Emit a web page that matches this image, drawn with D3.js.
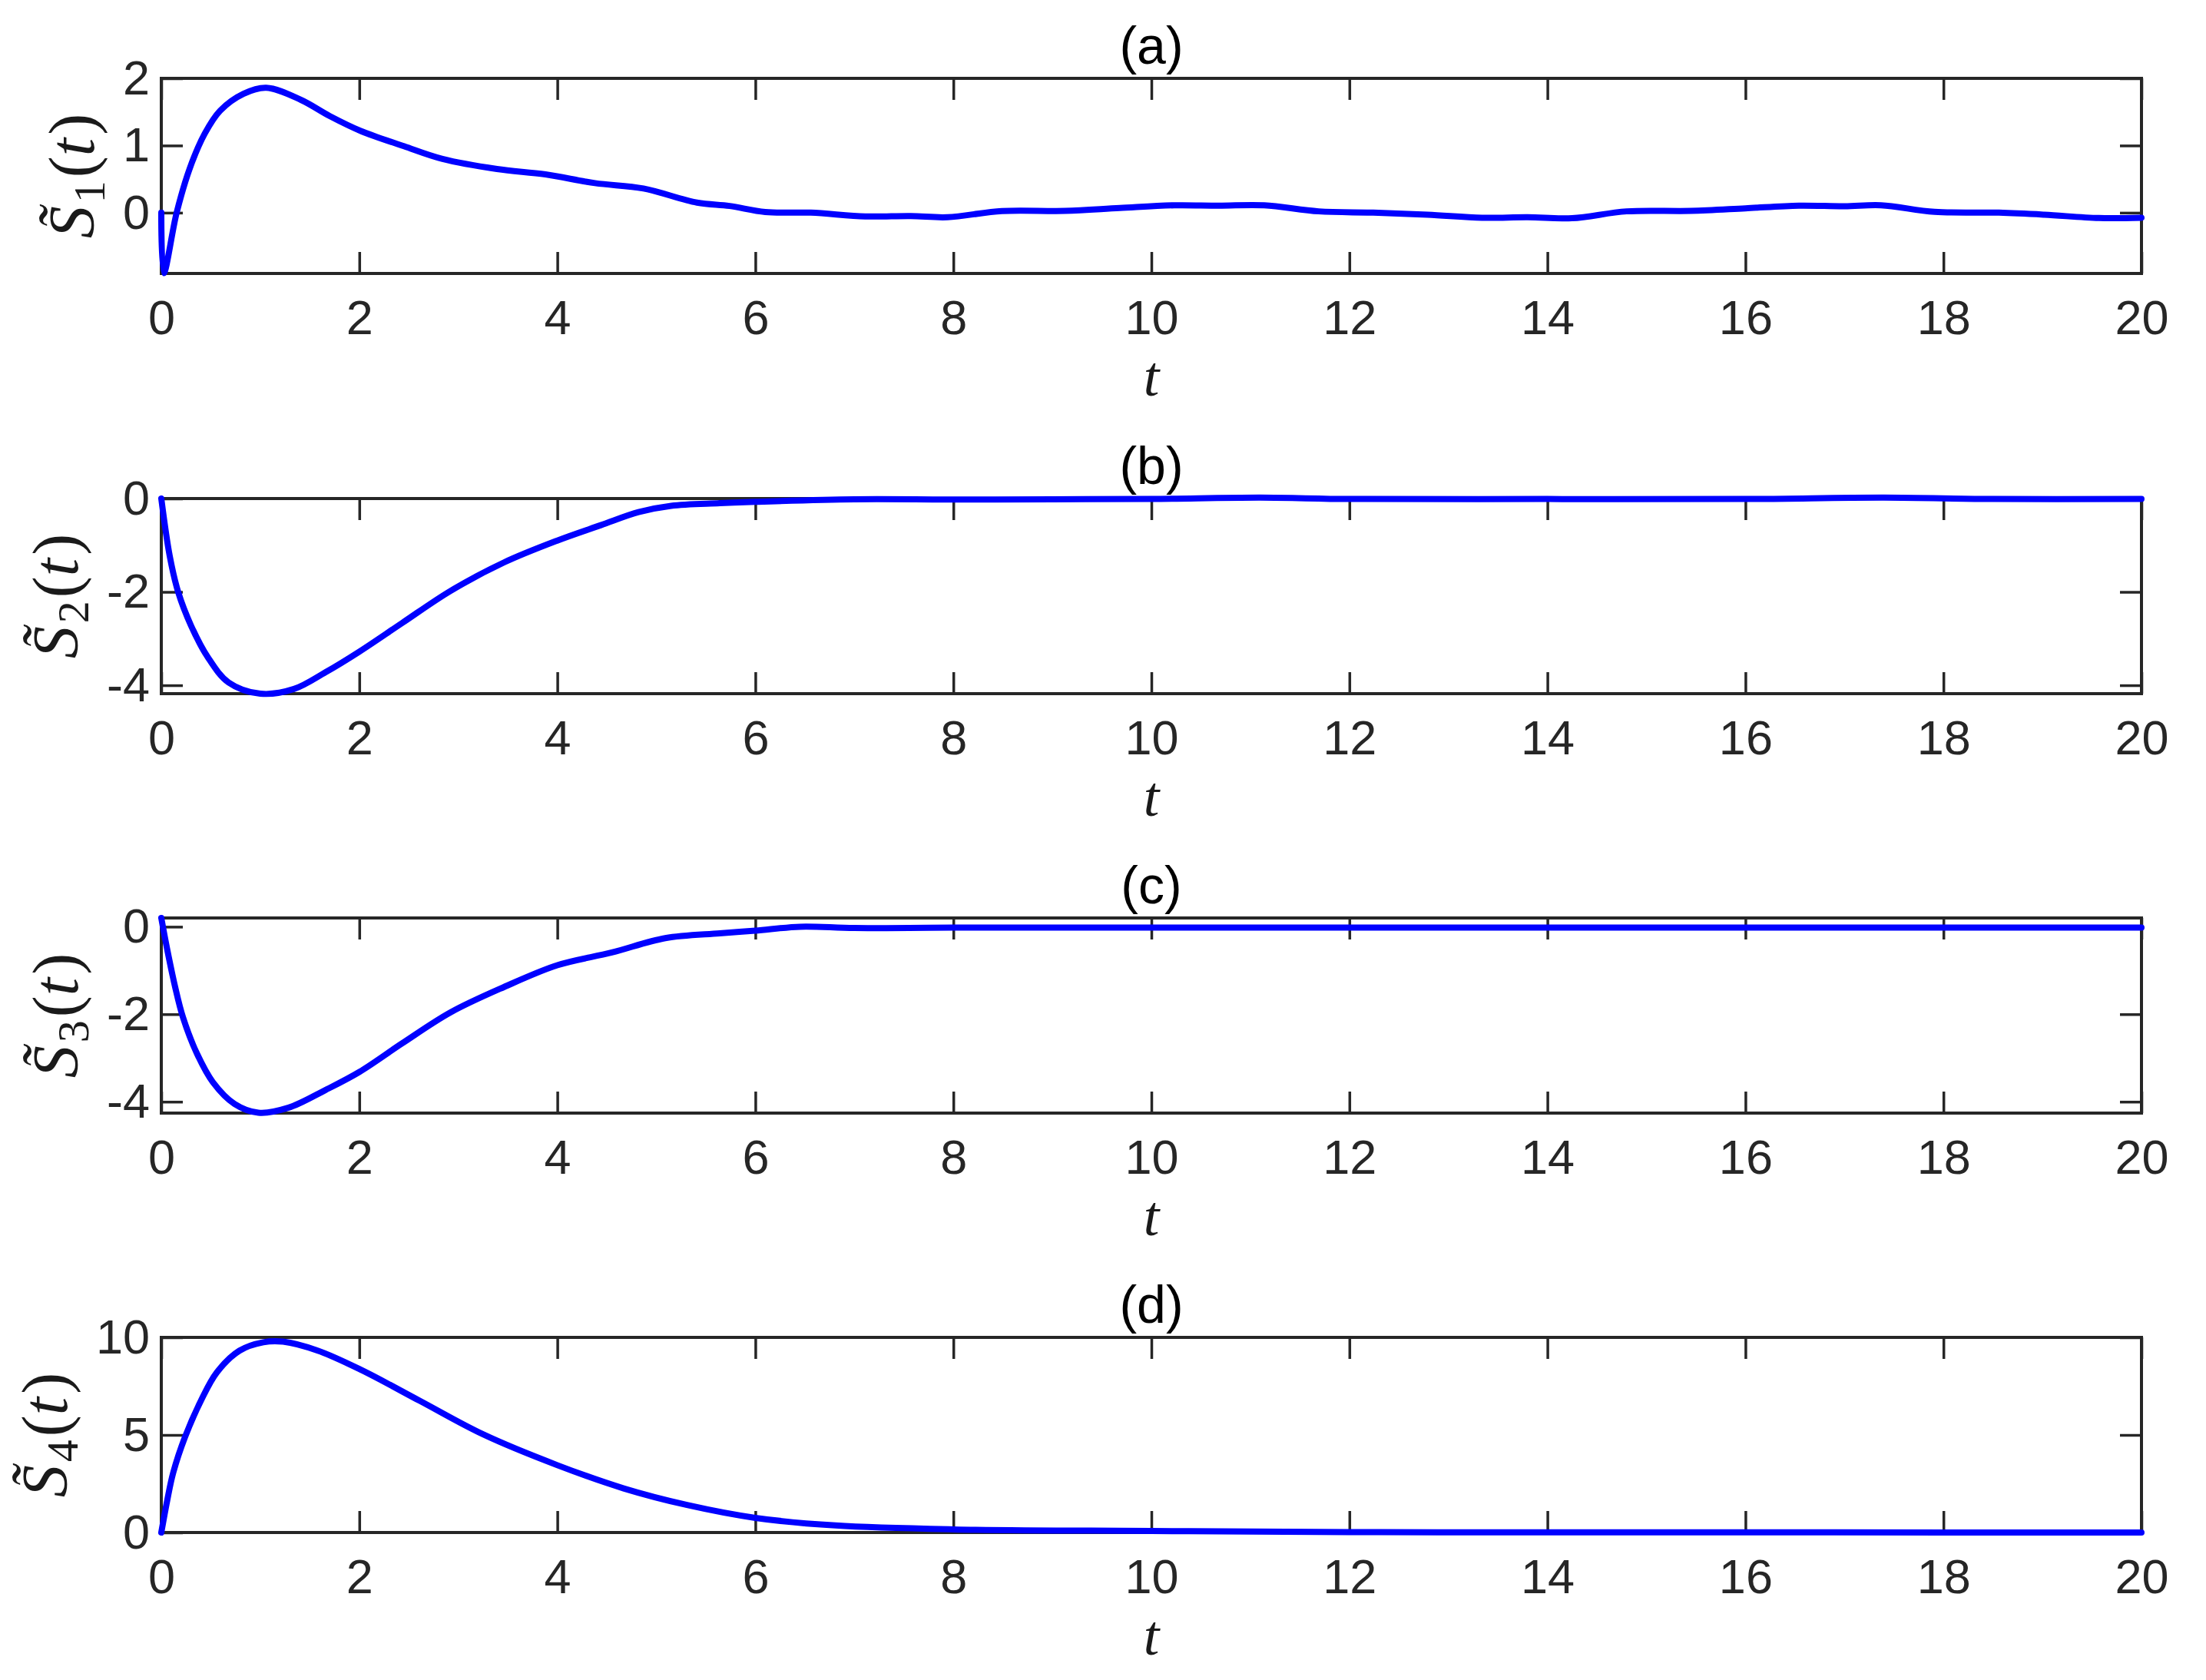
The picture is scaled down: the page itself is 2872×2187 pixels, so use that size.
<!DOCTYPE html>
<html>
<head>
<meta charset="utf-8">
<script src="https://cdn.jsdelivr.net/npm/d3@7"></script>
<style>
    body { margin: 0; background: #ffffff; }
</style>
</head>
<body>
<div id="chart"></div>
<script>
"use strict"

// shared time ticks
let tTicks = [0, 2, 4, 6, 8, 10, 12, 14, 16, 18, 20];

// (a) S1
let tA = [0, 0.025, 0.155, 0.285, 0.44, 0.595, 0.83, 1.06, 1.41, 1.70, 2.01, 2.45, 2.84, 3.39, 3.88, 4.38, 4.87, 5.41, 5.74, 6.1, 6.56, 7.11, 7.57, 7.94, 8.49, 9.13, 9.68, 10.23, 10.68, 11.14, 11.69, 12.24, 12.79, 13.34, 13.8, 14.25, 14.8, 15.45, 16.0, 16.54, 17.0, 17.37, 17.91, 18.56, 19.02, 19.57, 20];
let sA = [0, -0.9, 0, 0.65, 1.18, 1.52, 1.77, 1.86, 1.68, 1.44, 1.22, 0.99, 0.80, 0.65, 0.57, 0.44, 0.36, 0.15, 0.10, 0.01, 0, -0.055, -0.05, -0.068, 0.025, 0.027, 0.07, 0.11, 0.105, 0.11, 0.02, 0, -0.03, -0.075, -0.068, -0.082, 0.02, 0.027, 0.065, 0.105, 0.095, 0.11, 0.012, 0, -0.03, -0.08, -0.075];

// (b) S2
let tB = [0, 0.085, 0.17, 0.30, 0.467, 0.68, 1.0, 1.34, 1.66, 2.0, 2.43, 2.92, 3.46, 4.0, 4.44, 4.82, 5.15, 5.64, 6.0, 7.0, 8.0, 9.0, 10.0, 11.1, 12.0, 14.0, 16.0, 17.4, 18.5, 20];
let sB = [0, -1.23, -2.0, -2.72, -3.39, -3.94, -4.18, -4.08, -3.72, -3.28, -2.67, -1.98, -1.37, -0.90, -0.57, -0.29, -0.155, -0.10, -0.07, -0.015, -0.02, -0.015, -0.01, 0.02, -0.01, -0.01, -0.01, 0.02, -0.01, -0.01];

// (c) S3
let tC = [0, 0.058, 0.14, 0.22, 0.36, 0.52, 0.74, 0.98, 1.28, 1.66, 2.0, 2.43, 2.92, 3.46, 4.0, 4.55, 5.09, 5.64, 6.0, 6.45, 7.0, 8.0, 10, 12, 14, 16, 18, 20];
let sC = [0.2, -0.5, -1.38, -2.08, -2.9, -3.55, -4.05, -4.25, -4.14, -3.73, -3.32, -2.67, -1.96, -1.38, -0.88, -0.59, -0.26, -0.15, -0.09, 0.0, -0.03, -0.02, -0.02, -0.02, -0.02, -0.02, -0.02, -0.02];

// (d) S4
let tD = [0, 0.06, 0.12, 0.24, 0.40, 0.56, 0.79, 1.03, 1.23, 1.58, 2.02, 2.61, 3.25, 4.0, 4.67, 5.31, 6.0, 6.81, 8.0, 10, 12, 14, 16, 18, 20];
let sD = [0, 1.65, 3.06, 4.9, 6.75, 8.2, 9.32, 9.75, 9.78, 9.32, 8.33, 6.75, 5.03, 3.45, 2.26, 1.41, 0.75, 0.36, 0.16, 0.08, 0.02, 0.01, 0.01, 0.0, 0.0];

let titles = ["(a)", "(b)", "(c)", "(d)"];
let subs = ["1", "2", "3", "4"];
let yTicksAll = [[0, 1, 2], [-4, -2, 0], [-4, -2, 0], [0, 5, 10]];
let yLimits = [[-0.905, 2], [-4.18, 0], [-4.26, 0.2], [0, 10]];

let panels = [
    { t: tA, s: sA },
    { t: tB, s: sB },
    { t: tC, s: sC },
    { t: tD, s: sD }
];

var width = 2872,
    height = 2187,
    left = 210,
    plotW = 2578,
    plotH = 254,
    tops = [102, 649, 1195, 1741],
    axisColor = "#262626";

var svg = d3.select("#chart")
    .append("svg")
    .attr("width", width)
    .attr("height", height)
    .style("background", "#ffffff");

panels.forEach((p, i) => {
    var g = svg.append("g")
        .attr("transform", "translate(" + left + "," + tops[i] + ")");

    var x = d3.scaleLinear().domain([0, 20]).range([0, plotW]);
    var y = d3.scaleLinear().domain(yLimits[i]).range([plotH, 0]);

    // axes, ticks point inward like matlab
    var xb = g.append("g")
        .attr("transform", "translate(0," + plotH + ")")
        .call(d3.axisBottom(x).tickValues(tTicks).tickSizeInner(-28).tickSizeOuter(0).tickPadding(34).tickFormat(d => String(d)));
    var xt = g.append("g")
        .call(d3.axisTop(x).tickValues(tTicks).tickSizeInner(-28).tickSizeOuter(0).tickFormat(""));
    var yl = g.append("g")
        .call(d3.axisLeft(y).tickValues(yTicksAll[i]).tickSizeInner(-28).tickSizeOuter(0).tickPadding(15).tickFormat(d => String(d)));
    var yr = g.append("g")
        .attr("transform", "translate(" + plotW + ",0)")
        .call(d3.axisRight(y).tickValues(yTicksAll[i]).tickSizeInner(-28).tickSizeOuter(0).tickFormat(""));

    [xb, xt, yl, yr].forEach((a) => {
        a.select(".domain").remove();
        a.selectAll(".tick line").attr("stroke", axisColor).attr("stroke-width", 3.5);
        a.selectAll(".tick text")
            .attr("fill", axisColor)
            .style("font-family", "'Liberation Sans', Arial, sans-serif")
            .style("font-size", "63px");
    });

    // box
    g.append("rect")
        .attr("width", plotW)
        .attr("height", plotH)
        .attr("fill", "none")
        .attr("stroke", axisColor)
        .attr("stroke-width", 4);

    // curve
    var pts = p.t.map((tv, k) => [tv, p.s[k]]);
    g.append("path")
        .datum(pts)
        .attr("fill", "none")
        .attr("stroke", "#0000ff")
        .attr("stroke-width", 8)
        .attr("stroke-linejoin", "round")
        .attr("stroke-linecap", "round")
        .attr("d", d3.line()
            .x(d => x(d[0]))
            .y(d => y(d[1]))
            .curve(d3.curveCatmullRom.alpha(0.5)));

    // title
    g.append("text")
        .attr("x", plotW / 2)
        .attr("y", -19)
        .attr("text-anchor", "middle")
        .style("font-family", "'Liberation Sans', Arial, sans-serif")
        .style("font-size", "68px")
        .attr("fill", "#000")
        .text(titles[i]);

    // x label
    g.append("text")
        .attr("x", plotW / 2)
        .attr("y", plotH + 159)
        .attr("text-anchor", "middle")
        .style("font-family", "'Liberation Serif', 'DejaVu Serif', serif")
        .style("font-style", "italic")
        .style("font-size", "74px")
        .attr("fill", "#1a1a1a")
        .text("t");

    // y label, placed left of the tick labels
    var bb = yl.node().getBBox();
    var lab = g.append("text")
        .attr("transform", "translate(" + (bb.x - 38) + "," + (plotH / 2) + ") rotate(-90)")
        .attr("text-anchor", "middle")
        .style("font-family", "'Liberation Serif', 'DejaVu Serif', serif")
        .style("font-size", "84px")
        .attr("fill", "#1a1a1a");
    lab.append("tspan").style("font-style", "italic").text("S\u0303");
    lab.append("tspan").attr("dx", 4).attr("dy", 14).style("font-size", "58px").text(subs[i]);
    lab.append("tspan").attr("dx", 4).attr("dy", -14).text("(");
    lab.append("tspan").style("font-style", "italic").text("t");
    lab.append("tspan").attr("dx", 4).text(")");
});
</script>
</body>
</html>
